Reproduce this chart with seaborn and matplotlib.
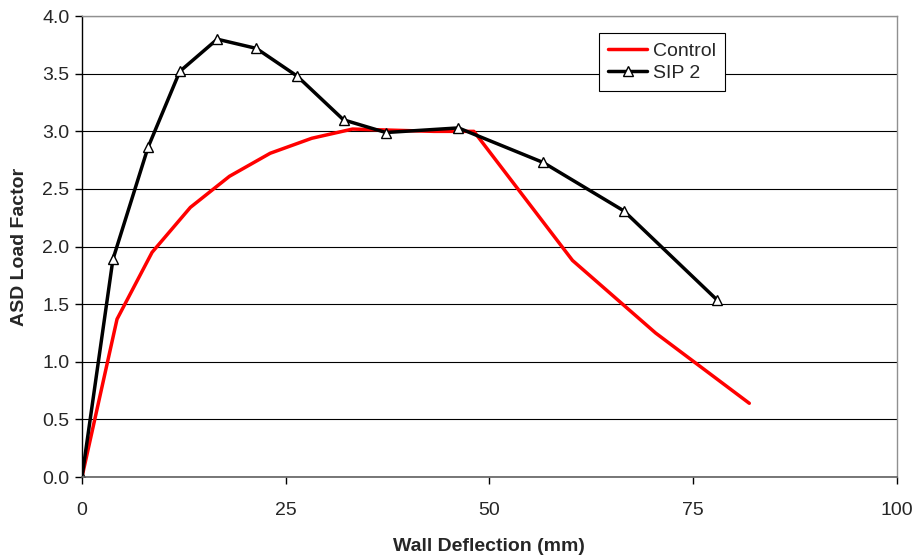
import matplotlib
matplotlib.use("Agg")
import matplotlib.pyplot as plt
import seaborn as sns
import pandas as pd

# data
control_x = [0, 4.3, 8.6, 13.3, 18.1, 23.1, 28.2, 33.2, 38.2, 43.2, 48.1, 60.2, 70.4, 81.9]
control_y = [0, 1.37, 1.95, 2.34, 2.61, 2.81, 2.94, 3.02, 3.01, 3.0, 3.0, 1.88, 1.25, 0.64]

sip2_x = [0, 3.8, 8.1, 12.0, 16.6, 21.4, 26.4, 32.1, 37.3, 46.2, 56.6, 66.5, 77.9]
sip2_y = [0, 1.89, 2.86, 3.52, 3.80, 3.72, 3.48, 3.10, 2.99, 3.03, 2.73, 2.31, 1.54]

x_ticks = [0, 25, 50, 75, 100]
y_ticks = [0.0, 0.5, 1.0, 1.5, 2.0, 2.5, 3.0, 3.5, 4.0]

sns.set_style("white")
plt.rcParams['font.family'] = ['Liberation Sans', 'DejaVu Sans']

fig = plt.figure(figsize=(9.16, 5.57), dpi=100)
ax = fig.add_axes([0.0895, 0.1436, 0.8895, 0.8274])

ctrl = pd.DataFrame({'x': control_x, 'y': control_y})
sip = pd.DataFrame({'x': sip2_x, 'y': sip2_y})

sns.lineplot(data=ctrl, x='x', y='y', ax=ax, color='#ff0000', linewidth=2.5,
             label='Control', sort=False, estimator=None)
sns.lineplot(data=sip, x='x', y='y', ax=ax, color='black', linewidth=2.5,
             marker='^', markersize=7, markerfacecolor='white',
             markeredgecolor='black', markeredgewidth=1.0,
             label='SIP 2', sort=False, estimator=None)

ax.set_xlim(0, 100)
ax.set_ylim(0, 4.0)
ax.set_xticks(x_ticks)
ax.set_yticks(y_ticks)
ax.set_yticklabels([f"{v:.1f}" for v in y_ticks])
ax.yaxis.grid(True, color='black', linewidth=0.8)
ax.set_axisbelow(True)

for s in ['top', 'right']:
    ax.spines[s].set_color('#909090')
    ax.spines[s].set_linewidth(1.0)
ax.spines['left'].set_color('black')
ax.spines['bottom'].set_color('#606060')
ax.spines['left'].set_linewidth(1.0)
ax.spines['bottom'].set_linewidth(1.2)

ax.tick_params(axis='both', direction='out', length=5, width=1, color='black',
               labelsize=14, bottom=True, left=True)
ax.tick_params(axis='x', pad=13)
ax.tick_params(axis='y', pad=4)

ax.set_xlabel('Wall Deflection (mm)', fontsize=14, fontweight='bold', labelpad=14)
ax.set_ylabel('ASD Load Factor', fontsize=14, fontweight='bold', labelpad=10)

leg = ax.legend(loc='upper left', bbox_to_anchor=(0.635, 0.963), fontsize=14,
                frameon=True, fancybox=False, framealpha=1, edgecolor='black',
                borderpad=0.45, handlelength=2.0, labelspacing=0.25, handletextpad=0.3,
                borderaxespad=0)
leg.get_frame().set_linewidth(0.8)

fig.savefig('out.png', dpi=100)
